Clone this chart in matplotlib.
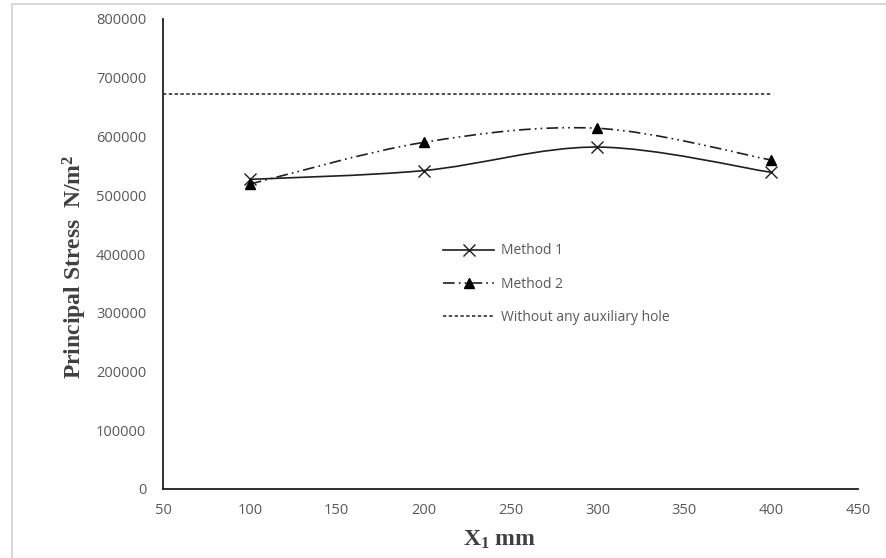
import matplotlib

matplotlib.use("Agg")
import matplotlib.pyplot as plt
from matplotlib.lines import Line2D
from matplotlib.patches import PathPatch, Rectangle
from matplotlib.path import Path

# values
x_positions = [100, 200, 300, 400]
method1 = [527000, 542000, 582000, 539000]
method2 = [519000, 590000, 614000, 560000]
no_hole_x = [50, 400]
no_hole_y = [672000, 672000]

xticks = [50, 100, 150, 200, 250, 300, 350, 400, 450]
yticks = [0, 100000, 200000, 300000, 400000, 500000, 600000, 700000, 800000]

plt.rcParams["mathtext.fontset"] = "custom"
plt.rcParams["mathtext.rm"] = "Liberation Serif:bold"
plt.rcParams["mathtext.it"] = "Liberation Serif:bold"
plt.rcParams["mathtext.bf"] = "Liberation Serif:bold"

TICK_GRAY = "#595959"
LINE = "#1f1f1f"


def _smooth_path(xs, ys):
    # Excel-style smoothed line: cardinal spline written as cubic Bezier segments
    pts = list(zip(xs, ys))
    verts = [pts[0]]
    codes = [Path.MOVETO]
    for i in range(len(pts) - 1):
        p0 = pts[i - 1] if i > 0 else pts[i]
        p1 = pts[i]
        p2 = pts[i + 1]
        p3 = pts[i + 2] if i + 2 < len(pts) else pts[i + 1]
        c1 = (p1[0] + (p2[0] - p0[0]) / 6, p1[1] + (p2[1] - p0[1]) / 6)
        c2 = (p2[0] - (p3[0] - p1[0]) / 6, p2[1] - (p3[1] - p1[1]) / 6)
        verts += [c1, c2, p2]
        codes += [Path.CURVE4] * 3
    return Path(verts, codes)


fig = plt.figure(figsize=(8.87, 5.58), dpi=100)
fig.patches.append(
    Rectangle((12 / 887, -0.1), 1.2, 1.1 - 4 / 558, transform=fig.transFigure,
              fill=False, edgecolor="#d9d9d9", linewidth=1.5)
)
ax = fig.add_axes([163 / 887, 1 - 489 / 558, (858 - 163) / 887, (489 - 19) / 558])

m1_style = dict(color=LINE, linewidth=1.2, linestyle="-")
m2_style = dict(color=LINE, linewidth=1.2, linestyle=(0, (7, 2.5, 1, 2.5, 1, 2.5)))
ref_style = dict(color=LINE, linewidth=1.1, linestyle=(0, (2.2, 1.6)))

ax.add_patch(PathPatch(_smooth_path(x_positions, method1), fill=False, **m1_style))
ax.add_patch(PathPatch(_smooth_path(x_positions, method2), fill=False, **m2_style))
ax.plot(x_positions, method1, linestyle="none", marker="x", markersize=9,
        markeredgewidth=1.0, color=LINE)
ax.plot(x_positions, method2, linestyle="none", marker="^", markersize=7, color="black")
ax.plot(no_hole_x, no_hole_y, **ref_style)

ax.set_xlim(50, 450)
ax.set_ylim(0, 800000)
ax.set_xticks(xticks)
ax.set_yticks(yticks)
ax.set_xticklabels([str(v) for v in xticks])
ax.set_yticklabels([str(v) for v in yticks])
ax.tick_params(length=0, labelsize=10.5, labelcolor=TICK_GRAY)
ax.tick_params(axis="x", pad=10)
ax.tick_params(axis="y", pad=12)
for lbl in ax.get_xticklabels() + ax.get_yticklabels():
    lbl.set_fontfamily("Open Sans")
for side in ["top", "right"]:
    ax.spines[side].set_visible(False)
for side in ["left", "bottom"]:
    ax.spines[side].set_color(LINE)
    ax.spines[side].set_linewidth(1.3)

ax.set_xlabel(r"X$_\mathrm{1}$ mm", fontfamily="Liberation Serif", fontweight="bold",
              fontsize=17, color="#404040")
ax.set_ylabel(r"Principal Stress  N/m$^\mathrm{2}$", fontfamily="Liberation Serif",
              fontweight="bold", fontsize=17, color="#404040")
ax.xaxis.set_label_coords((500 - 163) / 695, -(540 - 489) / 470, transform=ax.transAxes)
ax.yaxis.set_label_coords(-(163 - 75) / 695, (489 - 267) / 470, transform=ax.transAxes)
ax.xaxis.label.set_va("center")
ax.yaxis.label.set_va("center")

handles = [
    Line2D([], [], marker="x", markersize=9, markeredgewidth=1.0, **m1_style),
    Line2D([], [], marker="^", markersize=7, markerfacecolor="black",
           markeredgecolor="black", **m2_style),
    Line2D([], [], **ref_style),
]
fig.legend(handles, ["Method 1", "Method 2", "Without any auxiliary hole"],
           loc="center left", bbox_to_anchor=(443 / 887, 1 - 284 / 558),
           frameon=False, borderpad=0, borderaxespad=0, handlelength=3.7,
           handletextpad=0.45, labelspacing=1.3,
           prop={"family": "Open Sans", "size": 10}, labelcolor=TICK_GRAY)

fig.savefig("out.png", dpi=100)
